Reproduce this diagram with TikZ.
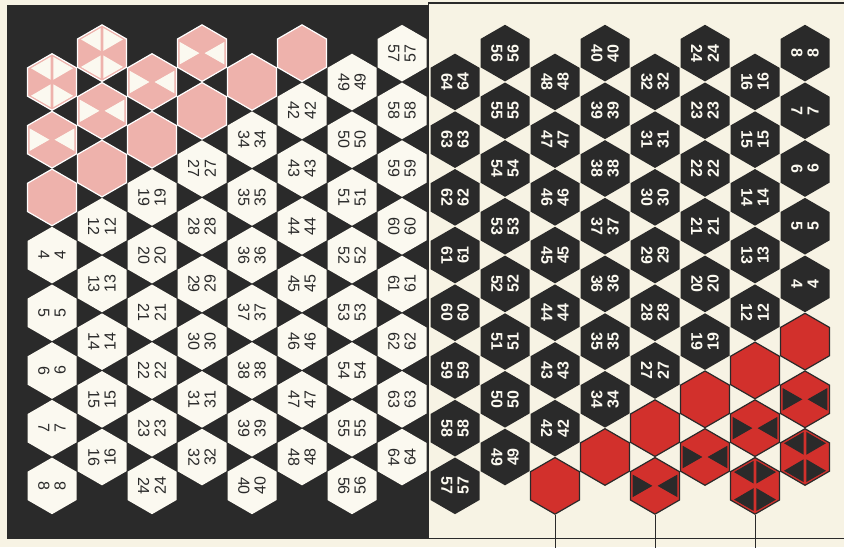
\documentclass[tikz,border=0pt]{standalone}
\usepackage{fontspec}
\setmainfont{Liberation Sans}
\definecolor{cream}{HTML}{F7F3E4}
\definecolor{hexwhite}{HTML}{FBF9F0}
\definecolor{ink}{HTML}{2A2A2A}
\definecolor{pinkc}{HTML}{EEB2AC}
\definecolor{redc}{HTML}{D2302C}
\newcommand\hexat[1][]{\path[#1] (0,-28.3) -- (24.5,-14.15) -- (24.5,14.15) -- (0,28.3) -- (-24.5,14.15) -- (-24.5,-14.15) -- cycle;}
\newcommand\ltri[1][]{\path[#1] (-22.4,-11.3) -- (-22.4,11.3) -- (-2.6,0) -- cycle;}
\tikzset{
  lnum/.style={inner sep=0pt, text=ink, font=\fontsize{16}{16}\selectfont},
  rnum/.style={inner sep=0pt, text=hexwhite, font=\fontsize{16}{16}\selectfont\bfseries},
  frameline/.style={draw=ink, line width=1.3pt},
  tickline/.style={draw=ink, line width=0.8pt},
}
\begin{document}
\begin{tikzpicture}[x=1pt,y=-1pt]
\useasboundingbox (0,0) rectangle (844,547);
\fill[cream] (0,0) rectangle (844,547);
\fill[ink] (7,5) rectangle (427.5,539);
\foreach \i in {1,...,8}{
  \foreach \k in {0,...,7}{
    \pgfmathtruncatemacro\n{8*(\i-1)+\k+1}
    \pgfmathsetmacro\x{52+50*(\i-1)}
    \pgfmathsetmacro\y{(mod(\i,2)==1 ? 82 : 53.15) + 57.7*\k}
    \pgfmathsetmacro\xr{857-\x}
    \pgfmathsetmacro\yr{539-\y}
    \pgfmathtruncatemacro\t{(\n==1||\n==9) ? 3 : ((\n==2||\n==10||\n==17||\n==25) ? 2 : ((\n==3||\n==11||\n==18||\n==26||\n==33||\n==41) ? 1 : 0))}
    \coordinate (LH\n) at (\x,\y);
    \coordinate (RH\n) at (\xr,\yr);
    % left panel
    \begin{scope}[shift={(\x,\y)}]
      \ifcase\t
        \hexat[fill=hexwhite]
        \node[lnum,rotate=-90] (L\n a) at (-8.2,0) {\n};
        \node[lnum,rotate=90] (L\n b) at (8.2,0) {\n};
      \or
        \hexat[fill=pinkc,draw=white,line width=1.2pt]
      \or
        \hexat[fill=pinkc,draw=white,line width=1.2pt]
        \ltri[fill=hexwhite]
        \ltri[fill=hexwhite,rotate=180]
      \or
        \hexat[fill=pinkc,draw=white,line width=1.2pt]
        \ltri[fill=hexwhite,rotate=60]
        \ltri[fill=hexwhite,rotate=-60]
        \ltri[fill=hexwhite,rotate=120]
        \ltri[fill=hexwhite,rotate=-120]
      \fi
    \end{scope}
    % right panel
    \begin{scope}[shift={(\xr,\yr)}]
      \ifcase\t
        \hexat[fill=ink]
        \node[rnum,rotate=-90] (R\n a) at (-8.2,0) {\n};
        \node[rnum,rotate=90] (R\n b) at (8.2,0) {\n};
      \or
        \hexat[fill=redc,draw=ink,line width=1.2pt]
      \or
        \hexat[fill=redc,draw=ink,line width=1.2pt]
        \ltri[fill=ink]
        \ltri[fill=ink,rotate=180]
      \or
        \hexat[fill=redc,draw=ink,line width=1.2pt]
        \ltri[fill=ink,rotate=60]
        \ltri[fill=ink,rotate=-60]
        \ltri[fill=ink,rotate=120]
        \ltri[fill=ink,rotate=-120]
      \fi
    \end{scope}
  }
}
\coordinate (ftl) at (428.5,3);
\coordinate (ftr) at (844,3);
\coordinate (fbl) at (428.5,538.5);
\coordinate (fbr) at (844,538.5);
\draw[frameline] (ftr) -- (ftl) -- (fbl) -- (fbr);
\draw[tickline] (RH41) ++(0,29.5) -- ++(0,40);
\draw[tickline] (RH25) ++(0,29.5) -- ++(0,40);
\draw[tickline] (RH9) ++(0,29.5) -- ++(0,40);
\end{tikzpicture}
\end{document}
